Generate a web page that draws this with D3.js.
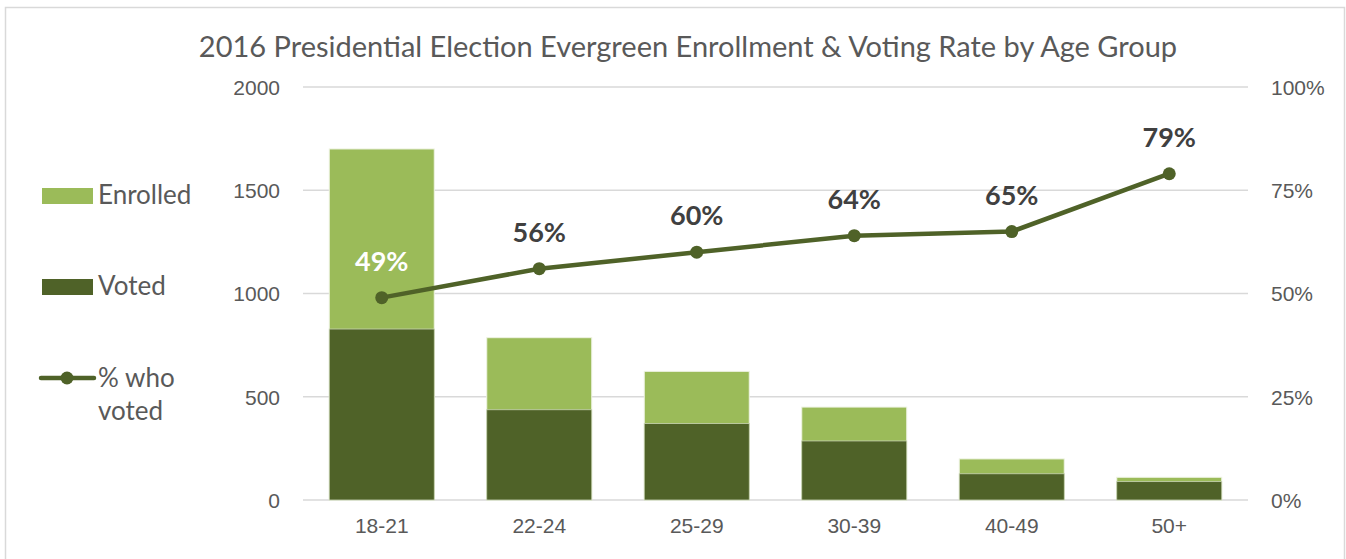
<!DOCTYPE html>
<html>
<head>
<meta charset="utf-8">
<script src="https://cdn.jsdelivr.net/npm/d3@7"></script>
<style>
  body { margin: 0; background: #fff; }
  svg { display: block; font-family: Lato, "Open Sans", sans-serif; }
</style>
</head>
<body>
<div id="chart"></div>
<script>
var ageGroups = ["18-21", "22-24", "25-29", "30-39", "40-49", "50+"];
var enrolled = [1700, 786, 623, 450, 199, 110];
var voted = [828, 437, 370, 286, 127, 89];
var pctVoted = [0.49, 0.56, 0.60, 0.64, 0.65, 0.79];
var leftTicks = [0, 500, 1000, 1500, 2000];
var rightTicks = [0, 0.25, 0.5, 0.75, 1];

var lightGreen = "#9bbb59",
    darkGreen = "#4f6228";

var width = 1346, height = 559;
var margin = {top: 87, right: 98, bottom: 59, left: 303};

var svg = d3.select("#chart")
  .append("svg")
    .attr("width", width)
    .attr("height", height);

// chart border
svg.append("rect")
  .attr("x", 5.5).attr("y", 7.5)
  .attr("width", 1339).attr("height", 600)
  .attr("fill", "none")
  .attr("stroke", "#d9d9d9")
  .attr("stroke-width", 1.5);

svg.append("text")
  .attr("x", 688)
  .attr("y", 57)
  .attr("text-anchor", "middle")
  .style("font-size", "29px")
  .attr("fill", "#595959")
  .text("2016 Presidential Election Evergreen Enrollment & Voting Rate by Age Group");

var x = d3.scaleBand()
  .domain(ageGroups)
  .range([margin.left, width - margin.right])
  .paddingInner(1/3)
  .paddingOuter(1/6);

var y = d3.scaleLinear()
  .domain([0, 2000])
  .range([height - margin.bottom, margin.top]);

var y2 = d3.scaleLinear()
  .domain([0, 1])
  .range([height - margin.bottom, margin.top]);

// gridlines
svg.append("g")
  .selectAll("line")
  .data(leftTicks)
  .enter()
  .append("line")
    .attr("x1", margin.left)
    .attr("x2", width - margin.right)
    .attr("y1", function(d) { return y(d); })
    .attr("y2", function(d) { return y(d); })
    .attr("stroke", "#d9d9d9")
    .attr("stroke-width", 1.5);

// left axis
var leftAxis = svg.append("g")
  .attr("transform", "translate(" + (margin.left - 23) + ",0)")
  .call(d3.axisLeft(y).tickValues(leftTicks).tickSize(0).tickPadding(0)
    .tickFormat(d3.format("d")));
leftAxis.select(".domain").remove();
leftAxis.selectAll("text")
  .style("font-size", "21px")
  .attr("fill", "#595959")
  .attr("dy", "0.35em");

// right axis
var rightAxis = svg.append("g")
  .attr("transform", "translate(" + (width - margin.right + 23) + ",0)")
  .call(d3.axisRight(y2).tickValues(rightTicks).tickSize(0).tickPadding(0)
    .tickFormat(d3.format(".0%")));
rightAxis.select(".domain").remove();
rightAxis.selectAll("text")
  .style("font-size", "21px")
  .attr("fill", "#595959")
  .attr("dy", "0.35em");

// x axis
var xAxis = svg.append("g")
  .attr("transform", "translate(0," + (height - margin.bottom) + ")")
  .call(d3.axisBottom(x).tickSize(0).tickPadding(18));
xAxis.select(".domain").remove();
xAxis.selectAll("text")
  .style("font-size", "21px")
  .attr("fill", "#595959");

// bars
svg.append("g")
  .selectAll("rect")
  .data(enrolled)
  .enter()
  .append("rect")
    .attr("x", function(d, i) { return x(ageGroups[i]); })
    .attr("width", x.bandwidth())
    .attr("y", function(d) { return y(d); })
    .attr("height", function(d) { return y(0) - y(d); })
    .attr("fill", lightGreen)
    .attr("stroke", "#eef3e2")
    .attr("stroke-width", 1);

svg.append("g")
  .selectAll("rect")
  .data(voted)
  .enter()
  .append("rect")
    .attr("x", function(d, i) { return x(ageGroups[i]); })
    .attr("width", x.bandwidth())
    .attr("y", function(d) { return y(d); })
    .attr("height", function(d) { return y(0) - y(d); })
    .attr("fill", darkGreen)
    .attr("stroke", "#c9d4b4")
    .attr("stroke-width", 0.8);

// line
var line = d3.line()
  .x(function(d, i) { return x(ageGroups[i]) + x.bandwidth() / 2; })
  .y(function(d) { return y2(d); });

svg.append("path")
  .datum(pctVoted)
  .attr("d", line)
  .attr("fill", "none")
  .attr("stroke", darkGreen)
  .attr("stroke-width", 4.5)
  .attr("stroke-linejoin", "round");

svg.append("g")
  .selectAll("circle")
  .data(pctVoted)
  .enter()
  .append("circle")
    .attr("cx", function(d, i) { return x(ageGroups[i]) + x.bandwidth() / 2; })
    .attr("cy", function(d) { return y2(d); })
    .attr("r", 6.5)
    .attr("fill", darkGreen);

svg.append("g")
  .selectAll("text")
  .data(pctVoted)
  .enter()
  .append("text")
    .attr("x", function(d, i) { return x(ageGroups[i]) + x.bandwidth() / 2; })
    .attr("y", function(d) { return y2(d) - 27; })
    .attr("text-anchor", "middle")
    .style("font-size", "27px")
    .style("font-weight", "bold")
    .attr("fill", function(d, i) { return i === 0 ? "#ffffff" : "#404040"; })
    .text(function(d) { return d3.format(".0%")(d); });

// legend
var legend = svg.append("g");
legend.append("rect")
  .attr("x", 42).attr("y", 188).attr("width", 51).attr("height", 16)
  .attr("fill", lightGreen);
legend.append("text")
  .attr("x", 98).attr("y", 204)
  .style("font-size", "26px").attr("fill", "#595959")
  .text("Enrolled");
legend.append("rect")
  .attr("x", 42).attr("y", 279).attr("width", 51).attr("height", 16)
  .attr("fill", darkGreen);
legend.append("text")
  .attr("x", 98).attr("y", 295)
  .style("font-size", "26px").attr("fill", "#595959")
  .text("Voted");
legend.append("line")
  .attr("x1", 41).attr("x2", 94).attr("y1", 378).attr("y2", 378)
  .attr("stroke", darkGreen).attr("stroke-width", 4.5)
  .attr("stroke-linecap", "round");
legend.append("circle")
  .attr("cx", 67).attr("cy", 378).attr("r", 6.5)
  .attr("fill", darkGreen);
legend.append("text")
  .attr("x", 98).attr("y", 387)
  .style("font-size", "26px").attr("fill", "#595959")
  .text("% who");
legend.append("text")
  .attr("x", 98).attr("y", 420)
  .style("font-size", "26px").attr("fill", "#595959")
  .text("voted");
</script>
</body>
</html>
